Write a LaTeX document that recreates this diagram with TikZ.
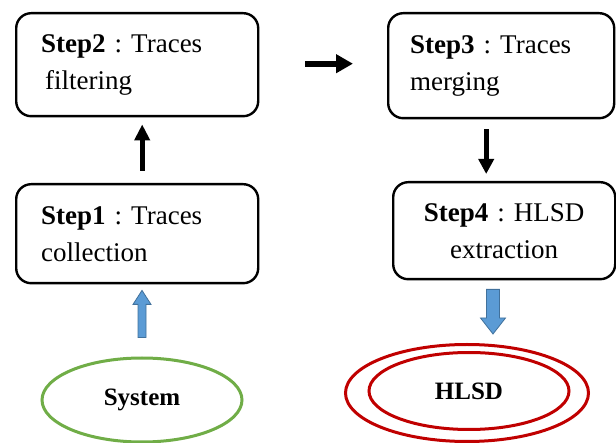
\documentclass[tikz,border=0pt]{standalone}
\usepackage{fontspec}
\setmainfont{Liberation Serif}
\usetikzlibrary{arrows.meta,shapes.geometric,calc}
\frenchspacing

\definecolor{leafgreen}{HTML}{70AD47}
\definecolor{darkred}{HTML}{C00000}
\definecolor{skyfill}{HTML}{5B9BD5}
\definecolor{skyline}{HTML}{41719C}

\tikzset{
  stepbox/.style={draw=black, line width=2.4pt, rounded corners=15pt,
    align=left, font=\fontsize{27}{37}\selectfont, anchor=north west},
  flowarrow/.style={draw=black, line width=#1},
  oval/.style={ellipse, inner sep=0pt, font=\fontsize{25}{30}\selectfont\bfseries},
  blockarrow/.style={fill=skyfill, draw=skyline, line width=0.8pt, line join=miter}
}

\begin{document}
\begin{tikzpicture}[x=1pt, y=-1pt]
  \useasboundingbox (0,0) rectangle (616,443);

  % the four processing steps
  \node[stepbox, minimum width=242pt, minimum height=103pt, inner xsep=25pt,
        text width=192pt] (s2) at (15,12)
        {\textbf{Step2} : Traces\\\hspace*{4pt}filtering};
  \node[stepbox, minimum width=226pt, minimum height=105pt, inner xsep=22pt,
        text width=182pt] (s3) at (387,12)
        {\textbf{Step3} : Traces\\merging};
  \node[stepbox, minimum width=242pt, minimum height=99pt, inner xsep=25pt,
        text width=192pt] (s1) at (15,183)
        {\textbf{Step1} : Traces\\collection};
  \node[stepbox, minimum width=222pt, minimum height=97pt, inner xsep=20pt,
        text width=182pt, align=center] (s4) at (392,181)
        {\textbf{Step4} : HLSD\\extraction};

  % input and output
  \node[oval, draw=leafgreen, line width=3pt, minimum width=200pt,
        minimum height=84pt] (sys) at (142,400) {System};
  \node[oval, draw=darkred, line width=3pt, minimum width=243pt,
        minimum height=97pt] (outH) at (467,393) {};
  \node[oval, draw=darkred, line width=3pt, minimum width=200pt,
        minimum height=77pt] (hlsd) at (469,391) {HLSD};

  % black arrows between the steps
  \draw[flowarrow=5pt, -{Triangle[length=16pt, width=15pt]},
        shorten <=12pt, shorten >=7pt]
    ([xshift=5pt]s1.north) -- ([xshift=5pt]s1.north |- s2.south);
  \draw[flowarrow=6pt, -{Triangle[length=17pt, width=18pt]},
        shorten <=46pt, shorten >=34pt]
    ([yshift=1pt]s2.east) -- ([yshift=1pt]s2.east -| s3.west);
  \draw[flowarrow=5pt, -{Triangle[length=15pt, width=15pt]},
        shorten <=10pt, shorten >=7pt]
    ([xshift=-15pt]s3.south) -- ([xshift=-15pt]s3.south |- s4.north);

  % blue block arrows
  \coordinate (inTail) at ($(sys.north)+(0,-19)$);
  \coordinate (inTip)  at ($(sys.north |- s1.south)+(0,6)$);
  \draw[blockarrow]
    ($(inTail)+(-4,0)$) -- ($(inTip)+(-4,14)$) -- ($(inTip)+(-9,14)$) --
    (inTip) -- ($(inTip)+(9,14)$) -- ($(inTip)+(4,14)$) --
    ($(inTail)+(4,0)$) -- cycle;

  \coordinate (outTip)  at ($(outH.north)+(26,-9)$);
  \coordinate (outTail) at ($(outTip |- s4.south)+(0,9)$);
  \draw[blockarrow]
    ($(outTail)+(-6.5,0)$) -- ($(outTip)+(-6.5,-16)$) -- ($(outTip)+(-12.5,-16)$) --
    (outTip) -- ($(outTip)+(12.5,-16)$) -- ($(outTip)+(6.5,-16)$) --
    ($(outTail)+(6.5,0)$) -- cycle;
\end{tikzpicture}
\end{document}
